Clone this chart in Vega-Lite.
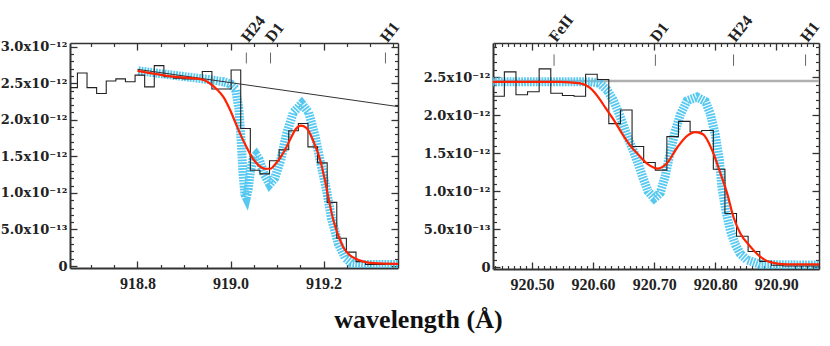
{
  "$schema": "https://vega.github.io/schema/vega-lite/v6.json",
  "padding": {"left": 0, "top": 12, "right": 6, "bottom": 4},
  "background": "white",
  "spacing": 20,
  "title": {"text": "wavelength (Å)", "orient": "bottom", "anchor": "middle", "font": "Liberation Serif", "fontSize": 26, "fontWeight": "bold", "color": "#111", "offset": 15, "dx": 7},
  "config": {"view": {"stroke": null}, "axis": {"grid": false}},
  "datasets": {
    "hist1": [
      {"w": 918.6400, "f": 2.44e-12}, {"w": 918.6606, "f": 2.44e-12}, {"w": 918.6813, "f": 2.64e-12}, {"w": 918.7019, "f": 2.44e-12},
      {"w": 918.7226, "f": 2.36e-12}, {"w": 918.7432, "f": 2.53e-12}, {"w": 918.7639, "f": 2.56e-12}, {"w": 918.7845, "f": 2.52e-12},
      {"w": 918.8052, "f": 2.61e-12}, {"w": 918.8258, "f": 2.45e-12}, {"w": 918.8465, "f": 2.74e-12}, {"w": 918.8671, "f": 2.59e-12},
      {"w": 918.8877, "f": 2.57e-12}, {"w": 918.9084, "f": 2.56e-12}, {"w": 918.9290, "f": 2.56e-12}, {"w": 918.9497, "f": 2.66e-12},
      {"w": 918.9703, "f": 2.42e-12}, {"w": 918.9910, "f": 2.42e-12}, {"w": 919.0116, "f": 2.68e-12}, {"w": 919.0323, "f": 1.88e-12},
      {"w": 919.0529, "f": 1.31e-12}, {"w": 919.0735, "f": 1.26e-12}, {"w": 919.0942, "f": 1.44e-12}, {"w": 919.1148, "f": 1.59e-12},
      {"w": 919.1355, "f": 1.85e-12}, {"w": 919.1561, "f": 1.95e-12}, {"w": 919.1768, "f": 1.63e-12}, {"w": 919.1974, "f": 1.41e-12},
      {"w": 919.2181, "f": 0.87e-12}, {"w": 919.2387, "f": 0.38e-12}, {"w": 919.2594, "f": 0.19e-12}, {"w": 919.2800, "f": 0.06e-12},
      {"w": 919.3006, "f": 0.02e-12}, {"w": 919.3213, "f": 0.02e-12}, {"w": 919.3419, "f": 0.03e-12}, {"w": 919.3626, "f": 0.03e-12},
      {"w": 919.3832, "f": 0.03e-12}
    ],
    "fit1": [
      {"w": 918.800, "f": 2.67e-12}, {"w": 918.877, "f": 2.59e-12}, {"w": 918.940, "f": 2.55e-12}, {"w": 918.955, "f": 2.50e-12},
      {"w": 918.970, "f": 2.42e-12}, {"w": 918.985, "f": 2.31e-12}, {"w": 918.998, "f": 2.15e-12}, {"w": 919.010, "f": 1.97e-12},
      {"w": 919.022, "f": 1.79e-12}, {"w": 919.035, "f": 1.62e-12}, {"w": 919.048, "f": 1.47e-12}, {"w": 919.060, "f": 1.38e-12},
      {"w": 919.075, "f": 1.33e-12}, {"w": 919.086, "f": 1.33e-12}, {"w": 919.097, "f": 1.40e-12}, {"w": 919.108, "f": 1.49e-12},
      {"w": 919.118, "f": 1.60e-12}, {"w": 919.129, "f": 1.74e-12}, {"w": 919.140, "f": 1.87e-12}, {"w": 919.151, "f": 1.92e-12},
      {"w": 919.163, "f": 1.89e-12}, {"w": 919.178, "f": 1.71e-12}, {"w": 919.194, "f": 1.42e-12}, {"w": 919.202, "f": 1.20e-12},
      {"w": 919.211, "f": 0.92e-12}, {"w": 919.219, "f": 0.68e-12}, {"w": 919.226, "f": 0.52e-12}, {"w": 919.234, "f": 0.38e-12},
      {"w": 919.243, "f": 0.25e-12}, {"w": 919.256, "f": 0.15e-12}, {"w": 919.269, "f": 0.10e-12}, {"w": 919.286, "f": 0.06e-12},
      {"w": 919.308, "f": 0.04e-12}, {"w": 919.360, "f": 0.03e-12}
    ],
    "model1": [
      {"w": 918.802, "f": 2.67e-12}, {"w": 918.888, "f": 2.60e-12}, {"w": 918.953, "f": 2.55e-12}, {"w": 918.985, "f": 2.52e-12},
      {"w": 919.000, "f": 2.49e-12}, {"w": 919.011, "f": 2.42e-12}, {"w": 919.018, "f": 2.15e-12}, {"w": 919.023, "f": 1.70e-12},
      {"w": 919.027, "f": 1.25e-12}, {"w": 919.031, "f": 0.98e-12}, {"w": 919.034, "f": 0.94e-12}, {"w": 919.038, "f": 1.05e-12},
      {"w": 919.043, "f": 1.30e-12}, {"w": 919.049, "f": 1.48e-12}, {"w": 919.055, "f": 1.52e-12}, {"w": 919.062, "f": 1.45e-12},
      {"w": 919.073, "f": 1.25e-12}, {"w": 919.084, "f": 1.12e-12}, {"w": 919.095, "f": 1.20e-12}, {"w": 919.108, "f": 1.45e-12},
      {"w": 919.120, "f": 1.80e-12}, {"w": 919.135, "f": 2.10e-12}, {"w": 919.153, "f": 2.22e-12}, {"w": 919.168, "f": 2.10e-12},
      {"w": 919.181, "f": 1.80e-12}, {"w": 919.194, "f": 1.40e-12}, {"w": 919.206, "f": 1.05e-12}, {"w": 919.217, "f": 0.65e-12},
      {"w": 919.232, "f": 0.30e-12}, {"w": 919.247, "f": 0.11e-12}, {"w": 919.260, "f": 0.04e-12}, {"w": 919.286, "f": 0.02e-12},
      {"w": 919.360, "f": 0.02e-12}
    ],
    "cont1": [{"w": 918.80, "f": 2.69e-12}, {"w": 919.36, "f": 2.18e-12}],
    "lines1": [{"w": 919.034, "name": "H24"}, {"w": 919.086, "name": "D1"}, {"w": 919.333, "name": "H1"}],
    "hist2": [
      {"w": 920.4261, "f": 2.34e-12}, {"w": 920.4451, "f": 2.25e-12}, {"w": 920.4641, "f": 2.57e-12}, {"w": 920.4831, "f": 2.27e-12},
      {"w": 920.5021, "f": 2.31e-12}, {"w": 920.5211, "f": 2.61e-12}, {"w": 920.5402, "f": 2.29e-12}, {"w": 920.5592, "f": 2.26e-12},
      {"w": 920.5782, "f": 2.25e-12}, {"w": 920.5972, "f": 2.54e-12}, {"w": 920.6162, "f": 2.47e-12}, {"w": 920.6352, "f": 1.89e-12},
      {"w": 920.6543, "f": 2.07e-12}, {"w": 920.6733, "f": 1.59e-12}, {"w": 920.6923, "f": 1.38e-12}, {"w": 920.7113, "f": 1.28e-12},
      {"w": 920.7303, "f": 1.72e-12}, {"w": 920.7493, "f": 1.92e-12}, {"w": 920.7684, "f": 1.78e-12}, {"w": 920.7874, "f": 1.80e-12},
      {"w": 920.8064, "f": 1.29e-12}, {"w": 920.8254, "f": 0.71e-12}, {"w": 920.8444, "f": 0.41e-12}, {"w": 920.8634, "f": 0.21e-12},
      {"w": 920.8825, "f": 0.08e-12}, {"w": 920.9015, "f": 0.03e-12}, {"w": 920.9205, "f": 0.02e-12}, {"w": 920.9395, "f": 0.02e-12},
      {"w": 920.9585, "f": 0.02e-12}, {"w": 920.9775, "f": 0.02e-12}, {"w": 920.9965, "f": 0.02e-12}
    ],
    "fit2": [
      {"w": 920.430, "f": 2.44e-12}, {"w": 920.546, "f": 2.44e-12}, {"w": 920.579, "f": 2.42e-12}, {"w": 920.595, "f": 2.36e-12},
      {"w": 920.611, "f": 2.21e-12}, {"w": 920.620, "f": 2.10e-12}, {"w": 920.633, "f": 1.95e-12}, {"w": 920.649, "f": 1.74e-12},
      {"w": 920.661, "f": 1.60e-12}, {"w": 920.672, "f": 1.50e-12}, {"w": 920.689, "f": 1.36e-12}, {"w": 920.705, "f": 1.30e-12},
      {"w": 920.721, "f": 1.37e-12}, {"w": 920.738, "f": 1.58e-12}, {"w": 920.754, "f": 1.73e-12}, {"w": 920.767, "f": 1.78e-12},
      {"w": 920.780, "f": 1.75e-12}, {"w": 920.795, "f": 1.54e-12}, {"w": 920.808, "f": 1.25e-12}, {"w": 920.820, "f": 0.96e-12},
      {"w": 920.830, "f": 0.66e-12}, {"w": 920.841, "f": 0.45e-12}, {"w": 920.857, "f": 0.28e-12}, {"w": 920.874, "f": 0.14e-12},
      {"w": 920.890, "f": 0.07e-12}, {"w": 920.918, "f": 0.04e-12}, {"w": 920.975, "f": 0.04e-12}
    ],
    "model2": [
      {"w": 920.430, "f": 2.44e-12}, {"w": 920.595, "f": 2.44e-12}, {"w": 920.611, "f": 2.42e-12}, {"w": 920.623, "f": 2.33e-12},
      {"w": 920.633, "f": 2.20e-12}, {"w": 920.641, "f": 2.05e-12}, {"w": 920.649, "f": 1.88e-12}, {"w": 920.657, "f": 1.70e-12},
      {"w": 920.666, "f": 1.53e-12}, {"w": 920.674, "f": 1.36e-12}, {"w": 920.682, "f": 1.17e-12}, {"w": 920.690, "f": 1.00e-12},
      {"w": 920.700, "f": 0.91e-12}, {"w": 920.710, "f": 0.98e-12}, {"w": 920.718, "f": 1.20e-12}, {"w": 920.726, "f": 1.50e-12},
      {"w": 920.734, "f": 1.78e-12}, {"w": 920.743, "f": 2.01e-12}, {"w": 920.754, "f": 2.19e-12}, {"w": 920.770, "f": 2.24e-12},
      {"w": 920.784, "f": 2.18e-12}, {"w": 920.792, "f": 2.02e-12}, {"w": 920.800, "f": 1.75e-12}, {"w": 920.807, "f": 1.40e-12},
      {"w": 920.811, "f": 1.05e-12}, {"w": 920.818, "f": 0.72e-12}, {"w": 920.825, "f": 0.48e-12}, {"w": 920.833, "f": 0.30e-12},
      {"w": 920.841, "f": 0.18e-12}, {"w": 920.852, "f": 0.10e-12}, {"w": 920.874, "f": 0.04e-12}, {"w": 920.975, "f": 0.03e-12}
    ],
    "cont2": [{"w": 920.43, "f": 2.45e-12}, {"w": 920.98, "f": 2.45e-12}],
    "lines2": [{"w": 920.536, "name": "FeII"}, {"w": 920.702, "name": "D1"}, {"w": 920.830, "name": "H24"}, {"w": 920.948, "name": "H1"}]
  },
  "hconcat": [
    {
      "width": 328,
      "height": 225,
      "resolve": {"axis": {"x": "independent", "y": "independent"}},
      "layer": [
        {
          "data": {"name": "model1"},
          "mark": {"type": "line", "clip": true, "color": "#45c3f0", "strokeWidth": 9, "strokeDash": [1.8, 1.1], "opacity": 0.9},
          "encoding": {
            "x": {"field": "w", "type": "quantitative", "scale": {"domain": [918.655, 919.36], "nice": false, "zero": false},
                  "axis": {"orient": "top", "values": [918.8, 919.0, 919.2], "labels": false, "title": null, "tickSize": -7, "tickColor": "#333", "tickWidth": 1.3, "domainColor": "#333", "domainWidth": 1.5}},
            "y": {"field": "f", "type": "quantitative", "scale": {"domain": [-2.7e-14, 3.05e-12], "nice": false, "zero": false},
                  "axis": {"orient": "right", "values": [0, 5e-13, 1e-12, 1.5e-12, 2e-12, 2.5e-12, 3e-12], "labels": false, "title": null, "tickSize": -7, "tickColor": "#333", "tickWidth": 1.3, "domainColor": "#333", "domainWidth": 1.5}}
          }
        },
        {
          "data": {"name": "hist1"},
          "mark": {"type": "line", "clip": true, "interpolate": "step", "color": "#222", "strokeWidth": 1.1},
          "encoding": {
            "x": {"field": "w", "type": "quantitative", "scale": {"domain": [918.655, 919.36], "nice": false, "zero": false},
                  "axis": {"orient": "bottom", "values": [918.8, 919.0, 919.2], "format": ".1f", "title": null, "tickSize": -7, "tickColor": "#333", "tickWidth": 1.3, "domainColor": "#333", "domainWidth": 2,
                           "labelFont": "Liberation Serif", "labelFontWeight": "bold", "labelFontSize": 16, "labelColor": "#222", "labelPadding": 14}},
            "y": {"field": "f", "type": "quantitative", "scale": {"domain": [-2.7e-14, 3.05e-12], "nice": false, "zero": false},
                  "axis": {"orient": "left", "values": [0, 5e-13, 1e-12, 1.5e-12, 2e-12, 2.5e-12, 3e-12], "title": null, "tickSize": -7, "tickColor": "#333", "tickWidth": 1.3, "domainColor": "#333", "domainWidth": 2,
                           "labelExpr": "datum.value < 1e-14 ? '0' : (datum.value > 9e-13 ? format(datum.value * 1e12, '.1f') + 'x10⁻¹²' : format(datum.value * 1e13, '.1f') + 'x10⁻¹³')",
                           "labelFont": "DejaVu Serif", "labelFontWeight": "bold", "labelFontSize": 13, "labelColor": "#222", "labelPadding": 10}}
          }
        },
        {
          "data": {"name": "cont1"},
          "mark": {"type": "line", "clip": true, "color": "#333", "strokeWidth": 1},
          "encoding": {
            "x": {"field": "w", "type": "quantitative", "scale": {"domain": [918.655, 919.36], "nice": false, "zero": false},
                  "axis": {"orient": "top", "values": [918.7, 918.75, 918.85, 918.9, 918.95, 919.05, 919.1, 919.15, 919.25, 919.3, 919.35], "labels": false, "domain": false, "title": null, "tickSize": -3.5, "tickColor": "#333", "tickWidth": 1.2}},
            "y": {"field": "f", "type": "quantitative", "scale": {"domain": [-2.7e-14, 3.05e-12], "nice": false, "zero": false},
                  "axis": {"orient": "right", "values": [1e-13, 2e-13, 3e-13, 4e-13, 6e-13, 7e-13, 8e-13, 9e-13, 1.1e-12, 1.2e-12, 1.3e-12, 1.4e-12, 1.6e-12, 1.7e-12, 1.8e-12, 1.9e-12, 2.1e-12, 2.2e-12, 2.3e-12, 2.4e-12, 2.6e-12, 2.7e-12, 2.8e-12, 2.9e-12], "labels": false, "domain": false, "title": null, "tickSize": -3.5, "tickColor": "#333", "tickWidth": 1.2}}
          }
        },
        {
          "data": {"name": "fit1"},
          "mark": {"type": "line", "clip": true, "interpolate": "monotone", "color": "#ff2200", "strokeWidth": 2.2},
          "encoding": {
            "x": {"field": "w", "type": "quantitative", "scale": {"domain": [918.655, 919.36], "nice": false, "zero": false},
                  "axis": {"orient": "bottom", "values": [918.7, 918.75, 918.85, 918.9, 918.95, 919.05, 919.1, 919.15, 919.25, 919.3, 919.35], "labels": false, "domain": false, "title": null, "tickSize": -3.5, "tickColor": "#333", "tickWidth": 1.2}},
            "y": {"field": "f", "type": "quantitative", "scale": {"domain": [-2.7e-14, 3.05e-12], "nice": false, "zero": false},
                  "axis": {"orient": "left", "values": [1e-13, 2e-13, 3e-13, 4e-13, 6e-13, 7e-13, 8e-13, 9e-13, 1.1e-12, 1.2e-12, 1.3e-12, 1.4e-12, 1.6e-12, 1.7e-12, 1.8e-12, 1.9e-12, 2.1e-12, 2.2e-12, 2.3e-12, 2.4e-12, 2.6e-12, 2.7e-12, 2.8e-12, 2.9e-12], "labels": false, "domain": false, "title": null, "tickSize": -3.5, "tickColor": "#333", "tickWidth": 1.2}}
          }
        },
        {
          "data": {"name": "lines1"},
          "mark": {"type": "rule", "color": "#666", "strokeWidth": 1},
          "encoding": {
            "x": {"field": "w", "type": "quantitative", "scale": {"domain": [918.655, 919.36], "nice": false, "zero": false}, "axis": null},
            "y": {"datum": 2.92e-12, "type": "quantitative", "scale": {"domain": [-2.7e-14, 3.05e-12], "nice": false, "zero": false}, "axis": null},
            "y2": {"datum": 2.77e-12}
          }
        },
        {
          "data": {"name": "lines1"},
          "mark": {"type": "text", "angle": 308, "align": "left", "baseline": "middle", "font": "Liberation Serif", "fontWeight": "bold", "fontSize": 16, "color": "#222", "dx": -3},
          "encoding": {
            "x": {"field": "w", "type": "quantitative", "scale": {"domain": [918.655, 919.36], "nice": false, "zero": false}, "axis": null},
            "y": {"datum": 3.12e-12, "type": "quantitative", "scale": {"domain": [-2.7e-14, 3.05e-12], "nice": false, "zero": false}, "axis": null},
            "text": {"field": "name"}
          }
        }
      ]
    },
    {
      "width": 326,
      "height": 226,
      "resolve": {"axis": {"x": "independent", "y": "independent"}},
      "layer": [
        {
          "data": {"name": "cont2"},
          "mark": {"type": "line", "clip": true, "color": "#b0b0b0", "strokeWidth": 2.5},
          "encoding": {
            "x": {"field": "w", "type": "quantitative", "scale": {"domain": [920.436, 920.97], "nice": false, "zero": false},
                  "axis": {"orient": "top", "values": [920.44, 920.45, 920.46, 920.47, 920.48, 920.49, 920.51, 920.52, 920.53, 920.54, 920.55, 920.56, 920.57, 920.58, 920.59, 920.61, 920.62, 920.63, 920.64, 920.65, 920.66, 920.67, 920.68, 920.69, 920.71, 920.72, 920.73, 920.74, 920.75, 920.76, 920.77, 920.78, 920.79, 920.81, 920.82, 920.83, 920.84, 920.85, 920.86, 920.87, 920.88, 920.89, 920.91, 920.92, 920.93, 920.94, 920.95, 920.96, 920.97], "labels": false, "domain": false, "title": null, "tickSize": -3.5, "tickColor": "#333", "tickWidth": 1.2}},
            "y": {"field": "f", "type": "quantitative", "scale": {"domain": [-2e-14, 2.95e-12], "nice": false, "zero": false},
                  "axis": {"orient": "right", "values": [1e-13, 2e-13, 3e-13, 4e-13, 6e-13, 7e-13, 8e-13, 9e-13, 1.1e-12, 1.2e-12, 1.3e-12, 1.4e-12, 1.6e-12, 1.7e-12, 1.8e-12, 1.9e-12, 2.1e-12, 2.2e-12, 2.3e-12, 2.4e-12, 2.6e-12, 2.7e-12, 2.8e-12, 2.9e-12], "labels": false, "domain": false, "title": null, "tickSize": -3.5, "tickColor": "#333", "tickWidth": 1.2}}
          }
        },
        {
          "data": {"name": "model2"},
          "mark": {"type": "line", "clip": true, "color": "#45c3f0", "strokeWidth": 9, "strokeDash": [1.8, 1.1], "opacity": 0.9},
          "encoding": {
            "x": {"field": "w", "type": "quantitative", "scale": {"domain": [920.436, 920.97], "nice": false, "zero": false},
                  "axis": {"orient": "top", "values": [920.5, 920.6, 920.7, 920.8, 920.9], "labels": false, "title": null, "tickSize": -7, "tickColor": "#333", "tickWidth": 1.3, "domainColor": "#333", "domainWidth": 1.5}},
            "y": {"field": "f", "type": "quantitative", "scale": {"domain": [-2e-14, 2.95e-12], "nice": false, "zero": false},
                  "axis": {"orient": "right", "values": [0, 5e-13, 1e-12, 1.5e-12, 2e-12, 2.5e-12], "labels": false, "title": null, "tickSize": -7, "tickColor": "#333", "tickWidth": 1.3, "domainColor": "#333", "domainWidth": 1.5}}
          }
        },
        {
          "data": {"name": "hist2"},
          "mark": {"type": "line", "clip": true, "interpolate": "step", "color": "#222", "strokeWidth": 1.1},
          "encoding": {
            "x": {"field": "w", "type": "quantitative", "scale": {"domain": [920.436, 920.97], "nice": false, "zero": false},
                  "axis": {"orient": "bottom", "values": [920.5, 920.6, 920.7, 920.8, 920.9], "format": ".2f", "title": null, "tickSize": -7, "tickColor": "#333", "tickWidth": 1.3, "domainColor": "#333", "domainWidth": 2,
                           "labelFont": "Liberation Serif", "labelFontWeight": "bold", "labelFontSize": 16, "labelColor": "#222", "labelPadding": 14}},
            "y": {"field": "f", "type": "quantitative", "scale": {"domain": [-2e-14, 2.95e-12], "nice": false, "zero": false},
                  "axis": {"orient": "left", "values": [0, 5e-13, 1e-12, 1.5e-12, 2e-12, 2.5e-12], "title": null, "tickSize": -7, "tickColor": "#333", "tickWidth": 1.3, "domainColor": "#333", "domainWidth": 2,
                           "labelExpr": "datum.value < 1e-14 ? '0' : (datum.value > 9e-13 ? format(datum.value * 1e12, '.1f') + 'x10⁻¹²' : format(datum.value * 1e13, '.1f') + 'x10⁻¹³')",
                           "labelFont": "DejaVu Serif", "labelFontWeight": "bold", "labelFontSize": 13, "labelColor": "#222", "labelPadding": 10}}
          }
        },
        {
          "data": {"name": "fit2"},
          "mark": {"type": "line", "clip": true, "interpolate": "monotone", "color": "#ff2200", "strokeWidth": 2.2},
          "encoding": {
            "x": {"field": "w", "type": "quantitative", "scale": {"domain": [920.436, 920.97], "nice": false, "zero": false},
                  "axis": {"orient": "bottom", "values": [920.44, 920.45, 920.46, 920.47, 920.48, 920.49, 920.51, 920.52, 920.53, 920.54, 920.55, 920.56, 920.57, 920.58, 920.59, 920.61, 920.62, 920.63, 920.64, 920.65, 920.66, 920.67, 920.68, 920.69, 920.71, 920.72, 920.73, 920.74, 920.75, 920.76, 920.77, 920.78, 920.79, 920.81, 920.82, 920.83, 920.84, 920.85, 920.86, 920.87, 920.88, 920.89, 920.91, 920.92, 920.93, 920.94, 920.95, 920.96, 920.97], "labels": false, "domain": false, "title": null, "tickSize": -3.5, "tickColor": "#333", "tickWidth": 1.2}},
            "y": {"field": "f", "type": "quantitative", "scale": {"domain": [-2e-14, 2.95e-12], "nice": false, "zero": false},
                  "axis": {"orient": "left", "values": [1e-13, 2e-13, 3e-13, 4e-13, 6e-13, 7e-13, 8e-13, 9e-13, 1.1e-12, 1.2e-12, 1.3e-12, 1.4e-12, 1.6e-12, 1.7e-12, 1.8e-12, 1.9e-12, 2.1e-12, 2.2e-12, 2.3e-12, 2.4e-12, 2.6e-12, 2.7e-12, 2.8e-12, 2.9e-12], "labels": false, "domain": false, "title": null, "tickSize": -3.5, "tickColor": "#333", "tickWidth": 1.2}}
          }
        },
        {
          "data": {"name": "lines2"},
          "mark": {"type": "rule", "color": "#666", "strokeWidth": 1},
          "encoding": {
            "x": {"field": "w", "type": "quantitative", "scale": {"domain": [920.436, 920.97], "nice": false, "zero": false}, "axis": null},
            "y": {"datum": 2.80e-12, "type": "quantitative", "scale": {"domain": [-2e-14, 2.95e-12], "nice": false, "zero": false}, "axis": null},
            "y2": {"datum": 2.65e-12}
          }
        },
        {
          "data": {"name": "lines2"},
          "mark": {"type": "text", "angle": 308, "align": "left", "baseline": "middle", "font": "Liberation Serif", "fontWeight": "bold", "fontSize": 16, "color": "#222", "dx": -3},
          "encoding": {
            "x": {"field": "w", "type": "quantitative", "scale": {"domain": [920.436, 920.97], "nice": false, "zero": false}, "axis": null},
            "y": {"datum": 3.02e-12, "type": "quantitative", "scale": {"domain": [-2e-14, 2.95e-12], "nice": false, "zero": false}, "axis": null},
            "text": {"field": "name"}
          }
        }
      ]
    }
  ]
}
